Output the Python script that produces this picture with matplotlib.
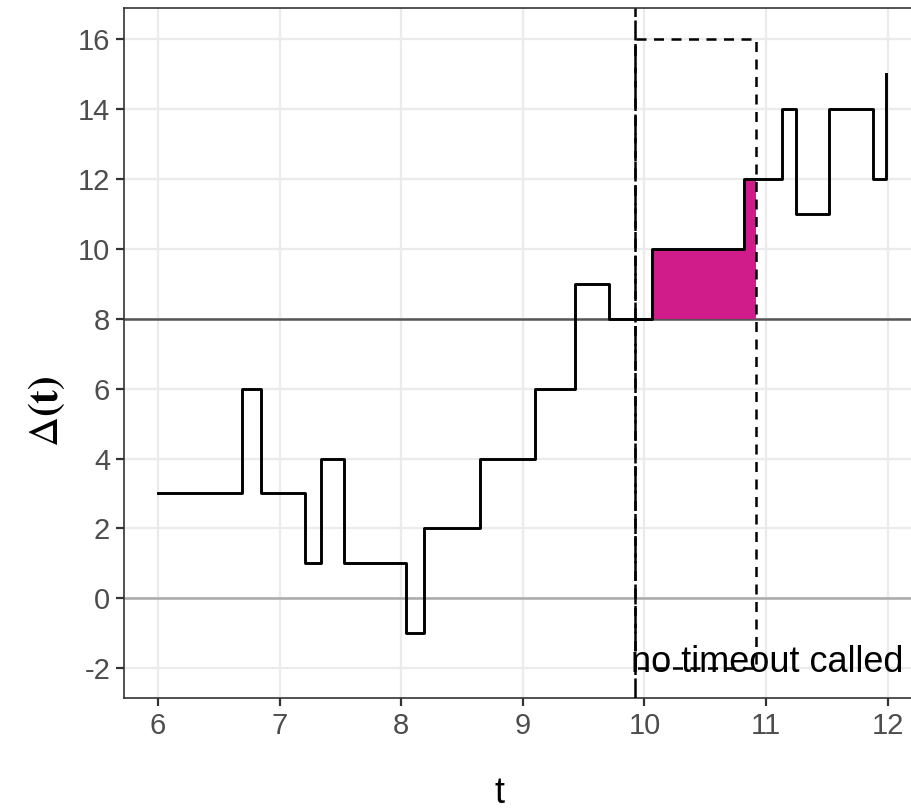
import numpy as np
import matplotlib.pyplot as plt

plt.rcParams['mathtext.fontset'] = 'stix'

# step times and Delta(t) values (post-step)
t_steps = [6.0, 6.69, 6.85, 7.21, 7.34, 7.53, 8.04, 8.19, 8.65, 9.10,
           9.43, 9.71, 10.06, 10.82, 11.13, 11.25, 11.52, 11.88, 11.99]
delta = [3, 6, 3, 1, 4, 1, -1, 2, 4, 6, 9, 8, 10, 12, 14, 11, 14, 12, 15]

threshold = 8
t_call = 9.92
window = 1.0
rect_top = 16
rect_bottom = -2

x_ticks = [6, 7, 8, 9, 10, 11, 12]
y_ticks = [-2, 0, 2, 4, 6, 8, 10, 12, 14, 16]

fig = plt.figure(figsize=(9.12, 8.1), dpi=100)
ax = fig.add_axes([0.136, 0.138, 0.864, 0.852])

# grid (theme_bw style)
ax.set_axisbelow(True)
ax.grid(color='#EBEBEB', linewidth=1.6)

ax.axhline(0, color='#AAAAAA', linewidth=1.8, zorder=1)
ax.axhline(threshold, color='#555555', linewidth=1.8, zorder=1)

# shaded area above threshold inside the window
t_arr = np.array(t_steps)
d_arr = np.array(delta, dtype=float)
t_end = t_call + window
fill_t = [10.06]
fill_d = []
for i in range(len(t_arr)):
    if 10.06 <= t_arr[i] < t_end:
        if t_arr[i] > fill_t[-1]:
            fill_t.append(t_arr[i])
        fill_d.append(d_arr[i])
fill_t.append(t_end)
fill_d.append(fill_d[-1])
ax.fill_between(fill_t, threshold, fill_d, step='post', color='#D01C8B',
                linewidth=0, zorder=2)

ax.step(t_steps, delta, where='post', color='black', linewidth=2.1, zorder=3)

# decision line and window rectangle
ax.axvline(t_call, color='black', linewidth=1.8, linestyle=(0, (8, 1.4)), zorder=4)
rx = [t_call, t_call, t_end, t_end, t_call]
ry = [rect_bottom, rect_top, rect_top, rect_bottom, rect_bottom]
ax.plot(rx, ry, color='black', linewidth=1.8, linestyle=(0, (4, 3)), zorder=4)

ax.text(9.89, -1.85, 'no timeout called', fontsize=26, family='Liberation Sans',
        ha='left', va='center', color='black', zorder=5)

ax.set_xlim(5.72, 12.2)
ax.set_ylim(-2.86, 16.89)
ax.set_xticks(x_ticks)
ax.set_yticks(y_ticks)
ax.set_xticklabels([str(v) for v in x_ticks], family='Liberation Sans', fontsize=21, color='#4D4D4D')
ax.set_yticklabels([str(v) for v in y_ticks], family='Liberation Sans', fontsize=21, color='#4D4D4D')
ax.tick_params(axis='both', length=6, width=1.6, color='#333333', pad=4)

for side in ['left', 'bottom', 'top']:
    ax.spines[side].set_color('#333333')
    ax.spines[side].set_linewidth(1.2)
ax.spines['right'].set_visible(False)

ax.set_xlabel('t', family='Liberation Sans', fontsize=26)
ax.xaxis.set_label_coords(0.476, -0.112)
ax.set_ylabel(r'$\Delta\mathbf{(t)}$', fontsize=30)
ax.yaxis.set_label_coords(-0.072, 0.416)

fig.savefig('out.png', dpi=100)
